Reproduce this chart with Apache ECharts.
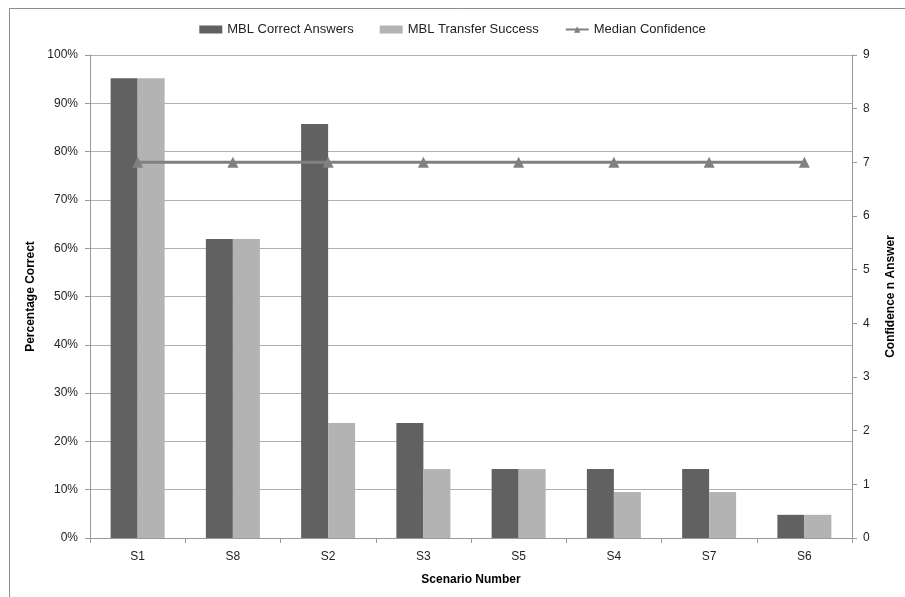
<!DOCTYPE html>
<html>
<head>
<meta charset="utf-8">
<script src="https://cdn.jsdelivr.net/npm/echarts@6/dist/echarts.min.js"></script>
<style>
  html, body { margin: 0; padding: 0; background: #fff; overflow: hidden; }
  #chart { width: 905px; height: 597px; }
</style>
</head>
<body>
<div id="chart"></div>
<script>
// Scenario order as plotted
const scenarios = ['S1', 'S8', 'S2', 'S3', 'S5', 'S4', 'S7', 'S6'];
// Percentages of participants (out of 21)
const correctAnswers = [95.2, 61.9, 85.7, 23.8, 14.3, 14.3, 14.3, 4.8];
const transferSuccess = [95.2, 61.9, 23.8, 14.3, 14.3, 9.5, 9.5, 4.8];
// Median confidence rating (0-9 scale)
const medianConfidence = [7, 7, 7, 7, 7, 7, 7, 7];
const percentTicks = [0, 10, 20, 30, 40, 50, 60, 70, 80, 90, 100];

const FONT = 'Liberation Sans';
const chart = echarts.init(document.getElementById('chart'));

chart.setOption({
  animation: false,
  backgroundColor: '#ffffff',
  textStyle: { fontFamily: FONT, color: '#000' },
  graphic: [{
    type: 'rect',
    shape: { x: 9.5, y: 8.5, width: 1000, height: 700 },
    style: { fill: 'none', stroke: '#8c8c8c', lineWidth: 1 },
    silent: true
  }],
  legend: {
    top: 18,
    left: 'center',
    itemGap: 26,
    itemWidth: 23,
    itemHeight: 8,
    textStyle: { fontFamily: FONT, fontSize: 13, color: '#222' },
    data: [
      { name: 'MBL Correct Answers', icon: 'rect' },
      { name: 'MBL Transfer Success', icon: 'rect' },
      { name: 'Median Confidence' }
    ]
  },
  grid: { left: 90, right: 45, top: 55, bottom: 59, containLabel: false },
  xAxis: {
    type: 'category',
    data: scenarios,
    name: 'Scenario Number',
    nameLocation: 'middle',
    nameGap: 36,
    nameTextStyle: { fontFamily: FONT, fontSize: 12, fontWeight: 'bold', color: '#000' },
    axisLine: { lineStyle: { color: '#9a9a9a' } },
    axisTick: { show: true, alignWithLabel: false, length: 5, lineStyle: { color: '#9a9a9a' } },
    axisLabel: { fontFamily: FONT, fontSize: 12, color: '#222', margin: 13 }
  },
  yAxis: [{
    type: 'value',
    min: 0,
    max: 100,
    interval: 10,
    name: 'Percentage Correct',
    nameLocation: 'middle',
    nameRotate: 90,
    nameGap: 50,
    nameTextStyle: { fontFamily: FONT, fontSize: 12, fontWeight: 'bold', color: '#000' },
    axisLine: { show: true, lineStyle: { color: '#9a9a9a' } },
    axisTick: { show: true, length: 5, lineStyle: { color: '#9a9a9a' } },
    axisLabel: {
      fontFamily: FONT, fontSize: 12, color: '#222', margin: 12,
      formatter: v => (percentTicks.includes(v) ? v + '%' : '')
    },
    splitLine: { show: true, lineStyle: { color: '#b0b0b0', width: 1 } }
  }, {
    type: 'value',
    min: 0,
    max: 9,
    interval: 1,
    name: 'Confidence n Answer',
    nameLocation: 'middle',
    nameRotate: 90,
    nameGap: 33,
    nameTextStyle: { fontFamily: FONT, fontSize: 12, fontWeight: 'bold', color: '#000' },
    axisLine: { show: true, lineStyle: { color: '#9a9a9a' } },
    axisTick: { show: true, length: 5, lineStyle: { color: '#9a9a9a' } },
    axisLabel: { fontFamily: FONT, fontSize: 12, color: '#222', margin: 11 },
    splitLine: { show: false }
  }],
  series: [{
    name: 'MBL Correct Answers',
    type: 'bar',
    data: correctAnswers,
    barWidth: 27,
    barGap: '0%',
    itemStyle: { color: '#616161' }
  }, {
    name: 'MBL Transfer Success',
    type: 'bar',
    data: transferSuccess,
    barWidth: 27,
    itemStyle: { color: '#b3b3b3' }
  }, {
    name: 'Median Confidence',
    type: 'line',
    yAxisIndex: 1,
    data: medianConfidence,
    symbol: 'triangle',
    symbolSize: 11,
    lineStyle: { color: '#808080', width: 3 },
    itemStyle: { color: '#808080' },
    z: 5
  }]
});
</script>
</body>
</html>
